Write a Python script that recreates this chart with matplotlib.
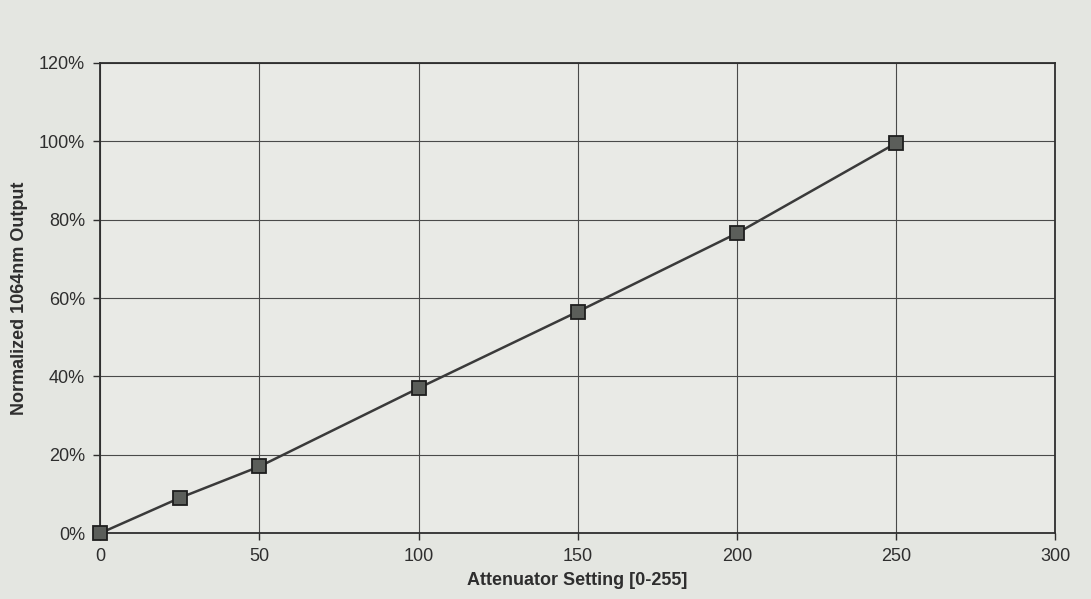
import matplotlib.pyplot as plt
from matplotlib.ticker import FuncFormatter

plt.rcParams['font.family'] = ['Liberation Sans', 'DejaVu Sans']

# attenuator setting vs normalized output
setting = [0, 25, 50, 100, 150, 200, 250]
output = [0.0, 0.09, 0.17, 0.37, 0.565, 0.765, 0.995]

x_ticks = [0, 50, 100, 150, 200, 250, 300]
y_ticks = [0.0, 0.2, 0.4, 0.6, 0.8, 1.0, 1.2]

paper = '#e4e6e1'
ink = '#2e2e2e'

fig = plt.figure(figsize=(10.91, 5.99), dpi=100, facecolor=paper)
ax = fig.add_axes([0.092, 0.11, 0.875, 0.785], facecolor='#e9eae6')

ax.plot(setting, output, color='#3a3a3a', linewidth=1.8,
        marker='s', markersize=10, markerfacecolor='#5b5e5a',
        markeredgecolor='#1e1e1e', markeredgewidth=1.3, zorder=3,
        clip_on=False)

ax.set_xlim(0, 300)
ax.set_ylim(0, 1.2)
ax.set_xticks(x_ticks)
ax.set_yticks(y_ticks)
ax.yaxis.set_major_formatter(FuncFormatter(lambda v, _: f'{v * 100:.0f}%'))

ax.grid(True, color='#4a4a4a', linewidth=0.8)
ax.set_axisbelow(True)
for s in ax.spines.values():
    s.set_color(ink)
    s.set_linewidth(1.3)

ax.tick_params(colors=ink, labelsize=13, length=5, width=1, pad=6)
ax.set_xlabel('Attenuator Setting [0-255]', fontsize=13, fontweight='bold',
              color=ink, labelpad=5)
ax.set_ylabel('Normalized 1064nm Output', fontsize=13, fontweight='bold',
              color=ink, labelpad=8)

fig.savefig('out.png', dpi=100, facecolor=paper)
